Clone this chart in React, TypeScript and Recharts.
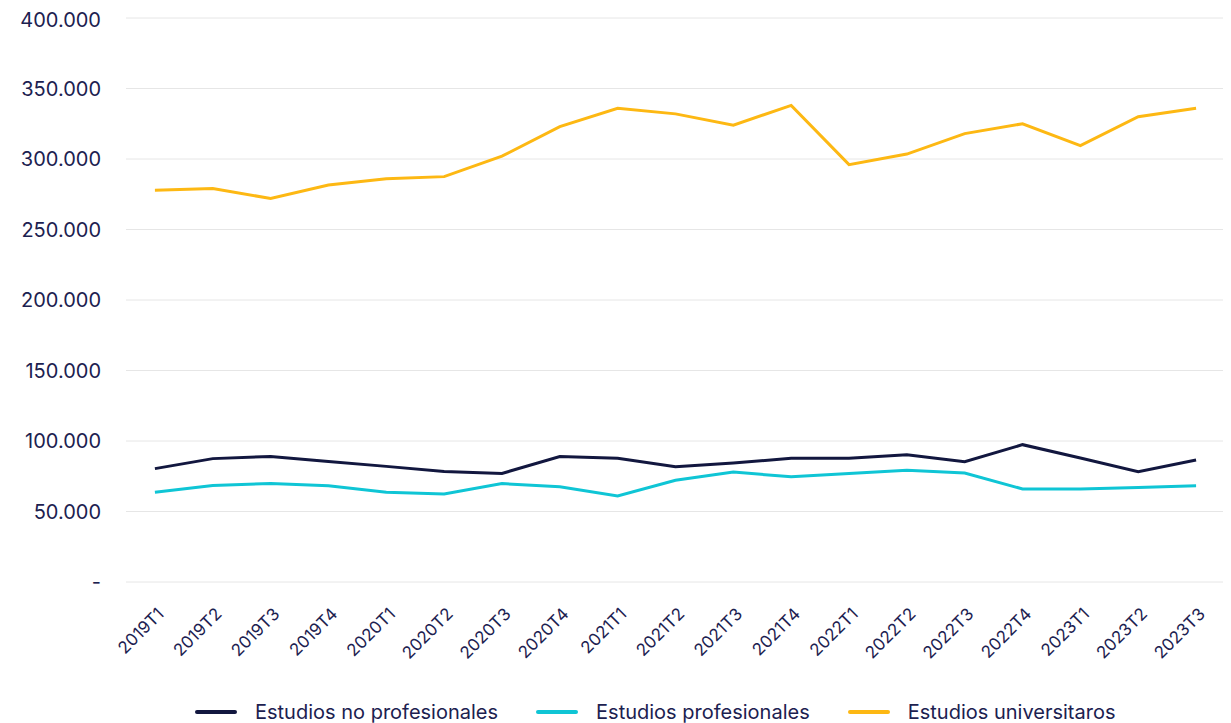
import { CartesianGrid, Legend, Line, LineChart, XAxis, YAxis } from "recharts";

const QUARTERS = [
  "2019T1", "2019T2", "2019T3", "2019T4",
  "2020T1", "2020T2", "2020T3", "2020T4",
  "2021T1", "2021T2", "2021T3", "2021T4",
  "2022T1", "2022T2", "2022T3", "2022T4",
  "2023T1", "2023T2", "2023T3",
];

const NO_PROFESIONALES = [
  80400, 87500, 89000, 85500, 82000, 78300, 77000, 89000, 87800, 81800,
  84400, 87700, 87700, 90300, 85300, 97400, 88000, 78300, 86500,
];

const PROFESIONALES = [
  63600, 68500, 69800, 68300, 63600, 62400, 69800, 67500, 61000, 72200,
  78000, 74600, 77000, 79300, 77300, 66000, 66000, 67100, 68200,
];

const UNIVERSITARIOS = [
  277800, 279000, 272000, 281500, 286000, 287500, 302000, 323000, 336000, 332000,
  324000, 338000, 296000, 303500, 318000, 325000, 309500, 330000, 336000,
];

const Y_TICKS = [0, 50000, 100000, 150000, 200000, 250000, 300000, 350000, 400000];

const SERIES = [
  { key: "noProf", name: "Estudios no profesionales", color: "#12173f" },
  { key: "prof", name: "Estudios profesionales", color: "#0fc5d5" },
  { key: "univ", name: "Estudios universitaros", color: "#fdb813" },
];

const INK = "#1c2150";
const FONT = "Inter, 'Noto Sans', sans-serif";

const data = QUARTERS.map((q, i) => ({
  q,
  noProf: NO_PROFESIONALES[i],
  prof: PROFESIONALES[i],
  univ: UNIVERSITARIOS[i],
}));

const formatTick = (v: number) => (v === 0 ? "-" : v.toLocaleString("de-DE"));

function QuarterTick({ x, y, payload }: any) {
  return (
    <g transform={`translate(${x + 10},${y + 25})`}>
      <text
        transform="rotate(-45)"
        textAnchor="end"
        fill={INK}
        fontSize={17}
        fontFamily={FONT}
      >
        {payload.value}
      </text>
    </g>
  );
}

function LegendRow() {
  return (
    <div
      style={{
        display: "flex",
        alignItems: "center",
        paddingLeft: 187,
        paddingTop: 17,
        fontFamily: FONT,
        fontSize: 20,
        color: INK,
      }}
    >
      {SERIES.map((s) => (
        <div key={s.key} style={{ display: "flex", alignItems: "center", marginRight: 38 }}>
          <span
            style={{
              display: "inline-block",
              width: 42,
              height: 4,
              borderRadius: 2,
              background: s.color,
              marginRight: 18,
            }}
          />
          <span>{s.name}</span>
        </div>
      ))}
    </div>
  );
}

export default function App() {
  return (
    <LineChart
      width={1223}
      height={715}
      data={data}
      margin={{ top: 10, right: 6, left: 0, bottom: 0 }}
      style={{ fontFamily: FONT }}
    >
      <CartesianGrid vertical={false} stroke="#e6e6e6" />
      <XAxis
        dataKey="q"
        scale="band"
        axisLine={false}
        tickLine={false}
        interval={0}
        height={101}
        tick={<QuarterTick />}
      />
      <YAxis
        width={118}
        domain={[0, 400000]}
        ticks={Y_TICKS}
        axisLine={false}
        tickLine={false}
        tickMargin={19}
        tickFormatter={formatTick}
        tick={{ fill: INK, fontSize: 20, fontFamily: FONT }}
      />
      <Legend
        verticalAlign="bottom"
        height={40}
        wrapperStyle={{ left: 0, width: 1223 }}
        content={() => <LegendRow />}
      />
      {SERIES.map((s) => (
        <Line
          key={s.key}
          type="linear"
          dataKey={s.key}
          name={s.name}
          stroke={s.color}
          strokeWidth={3}
          dot={false}
          activeDot={false}
          isAnimationActive={false}
        />
      ))}
    </LineChart>
  );
}
